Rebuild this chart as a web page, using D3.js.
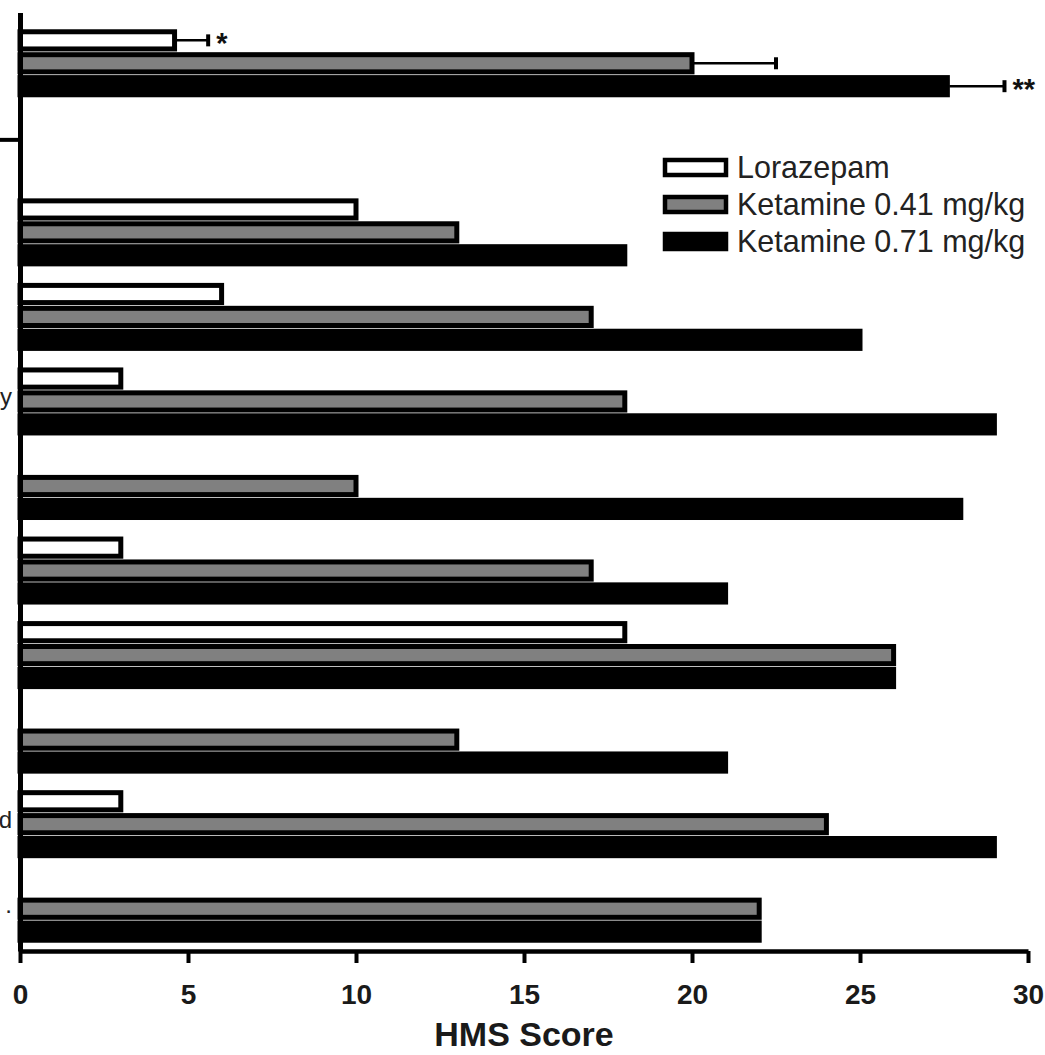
<!DOCTYPE html>
<html lang="en">
<head>
<meta charset="UTF-8" />
<title>HMS Score</title>
<script src="https://d3js.org/d3.v7.min.js"></script>
<style>
  body { margin: 0; background: #fff; font-family: "Liberation Sans", Arial, sans-serif; }
  svg { display: block; }
</style>
</head>
<body>
<div id="chart"></div>

<script>
// categories top to bottom; "gap" is the empty slot under the first group
const categories = ["g1", "gap", "g2", "g3", "g4", "g5", "g6", "g7", "g8", "g9", "g10"];
// only the tail of the category labels survives on the left edge of the figure
const categoryLabels = ["", "", "", "", "y", "", "", "", "", "d", "."];

const series = ["Lorazepam", "Ketamine 0.41 mg/kg", "Ketamine 0.71 mg/kg"];
const lorazepam   = [4.6, null, 10, 6, 3, 0, 3, 18, 0, 3, 0];
const ketamine041 = [20, null, 13, 17, 18, 10, 17, 26, 13, 24, 22];
const ketamine071 = [27.6, null, 18, 25, 29, 28, 21, 26, 21, 29, 22];

// error bars (SEM) and significance marks, only on the first group
const lorazepamErr   = [1.0, null, null, null, null, null, null, null, null, null, null];
const ketamine041Err = [2.5, null, null, null, null, null, null, null, null, null, null];
const ketamine071Err = [1.7, null, null, null, null, null, null, null, null, null, null];
const lorazepamSig   = ["*", "", "", "", "", "", "", "", "", "", ""];
const ketamine041Sig = ["", "", "", "", "", "", "", "", "", "", ""];
const ketamine071Sig = ["**", "", "", "", "", "", "", "", "", "", ""];

const xTicks = [0, 5, 10, 15, 20, 25, 30];

const width = 1045, height = 1055;
const margin = { top: 21, right: 17, bottom: 105, left: 20 };
const fills = ["#ffffff", "#808080", "#000000"];

const values = [lorazepam, ketamine041, ketamine071];
const errs = [lorazepamErr, ketamine041Err, ketamine071Err];
const sigs = [lorazepamSig, ketamine041Sig, ketamine071Sig];

const rows = [];
categories.forEach((c, i) => {
  series.forEach((s, j) => {
    if (values[j][i] == null) return;
    rows.push({ cat: c, series: s, idx: j, value: values[j][i], err: errs[j][i], sig: sigs[j][i] });
  });
});

const svg = d3.select("#chart").append("svg")
  .attr("width", width)
  .attr("height", height);

const x = d3.scaleLinear().domain([0, 30]).range([margin.left, 1028]);
const y0 = d3.scaleBand().domain(categories).range([margin.top, height - margin.bottom + 1]);
const y1 = d3.scaleBand().domain(series).range([0, y0.bandwidth()])
  .paddingInner(0.25).paddingOuter(0.47);
const color = d3.scaleOrdinal().domain(series).range(fills);

// bars
svg.append("g").selectAll("rect")
  .data(rows.filter(d => d.value > 0))
  .join("rect")
  .attr("x", x(0))
  .attr("y", d => y0(d.cat) + y1(d.series))
  .attr("width", d => x(d.value) - x(0))
  .attr("height", y1.bandwidth())
  .attr("fill", d => color(d.series))
  .attr("stroke", "#000")
  .attr("stroke-width", 5);

// error bars
const eb = rows.filter(d => d.err != null);
const ebG = svg.append("g").attr("stroke", "#000");
ebG.selectAll("line.whisker").data(eb).join("line")
  .attr("class", "whisker")
  .attr("x1", d => x(d.value) + 2)
  .attr("x2", d => x(d.value + d.err))
  .attr("y1", d => y0(d.cat) + y1(d.series) + y1.bandwidth() / 2)
  .attr("y2", d => y0(d.cat) + y1(d.series) + y1.bandwidth() / 2)
  .attr("stroke-width", 2.5);
ebG.selectAll("line.cap").data(eb).join("line")
  .attr("class", "cap")
  .attr("x1", d => x(d.value + d.err))
  .attr("x2", d => x(d.value + d.err))
  .attr("y1", d => y0(d.cat) + y1(d.series) + y1.bandwidth() / 2 - 6)
  .attr("y2", d => y0(d.cat) + y1(d.series) + y1.bandwidth() / 2 + 6)
  .attr("stroke-width", 4);

svg.append("g").selectAll("text")
  .data(rows.filter(d => d.sig))
  .join("text")
  .attr("x", d => x(d.value + (d.err || 0)) + 8)
  .attr("y", d => y0(d.cat) + y1(d.series) + y1.bandwidth() / 2 + 13)
  .attr("font-size", 29)
  .attr("font-weight", "bold")
  .attr("fill", "#111")
  .text(d => d.sig);

// x axis
const xAxis = svg.append("g")
  .attr("transform", `translate(0,${y0.range()[1]})`)
  .call(d3.axisBottom(x).tickValues(xTicks).tickSize(12).tickSizeOuter(0).tickPadding(21));
xAxis.select(".domain").attr("stroke-width", 4.5);
xAxis.selectAll(".tick line").attr("stroke-width", 4);
xAxis.selectAll(".tick text")
  .attr("font-family", "'Liberation Sans', Arial, sans-serif")
  .attr("font-size", 28)
  .attr("font-weight", "bold")
  .attr("fill", "#1a1a1a");

svg.append("text")
  .attr("x", (x.range()[0] + x.range()[1]) / 2)
  .attr("y", 1046)
  .attr("text-anchor", "middle")
  .attr("font-size", 34)
  .attr("font-weight", "bold")
  .attr("fill", "#1a1a1a")
  .text("HMS Score");

// y axis: slot-index scale so the separator tick can sit inside the empty slot
const yIdx = d3.scaleLinear().domain([0, categories.length]).range(y0.range());
const yAxisScale = yIdx.copy().domain([-0.1, categories.length]).range([yIdx(-0.1), yIdx(categories.length)]);
const yAxis = svg.append("g")
  .attr("transform", `translate(${x(0)},0)`)
  .call(d3.axisLeft(yAxisScale).tickValues([1.4]).tickFormat("").tickSize(22).tickSizeOuter(0));
yAxis.select(".domain").attr("stroke-width", 5);
yAxis.selectAll(".tick line").attr("stroke-width", 4);

// cut-off category labels
svg.append("g").selectAll("text")
  .data(categories.map((c, i) => ({ cat: c, label: categoryLabels[i] })).filter(d => d.label))
  .join("text")
  .attr("x", 12)
  .attr("y", d => y0(d.cat) + y0.bandwidth() / 2 + 4)
  .attr("text-anchor", "end")
  .attr("font-size", 24)
  .attr("fill", "#222")
  .text(d => d.label);

// legend
const legend = svg.append("g").attr("transform", "translate(665,160)");
const lg = legend.selectAll("g").data(series).join("g")
  .attr("transform", (d, i) => `translate(0,${i * 37})`);
lg.append("rect")
  .attr("width", 61)
  .attr("height", 15)
  .attr("fill", d => color(d))
  .attr("stroke", "#000")
  .attr("stroke-width", 4.5);
lg.append("text")
  .attr("x", 72)
  .attr("y", 18)
  .attr("font-size", 30.5)
  .attr("fill", "#222")
  .text(d => d);
</script>
</body>
</html>
